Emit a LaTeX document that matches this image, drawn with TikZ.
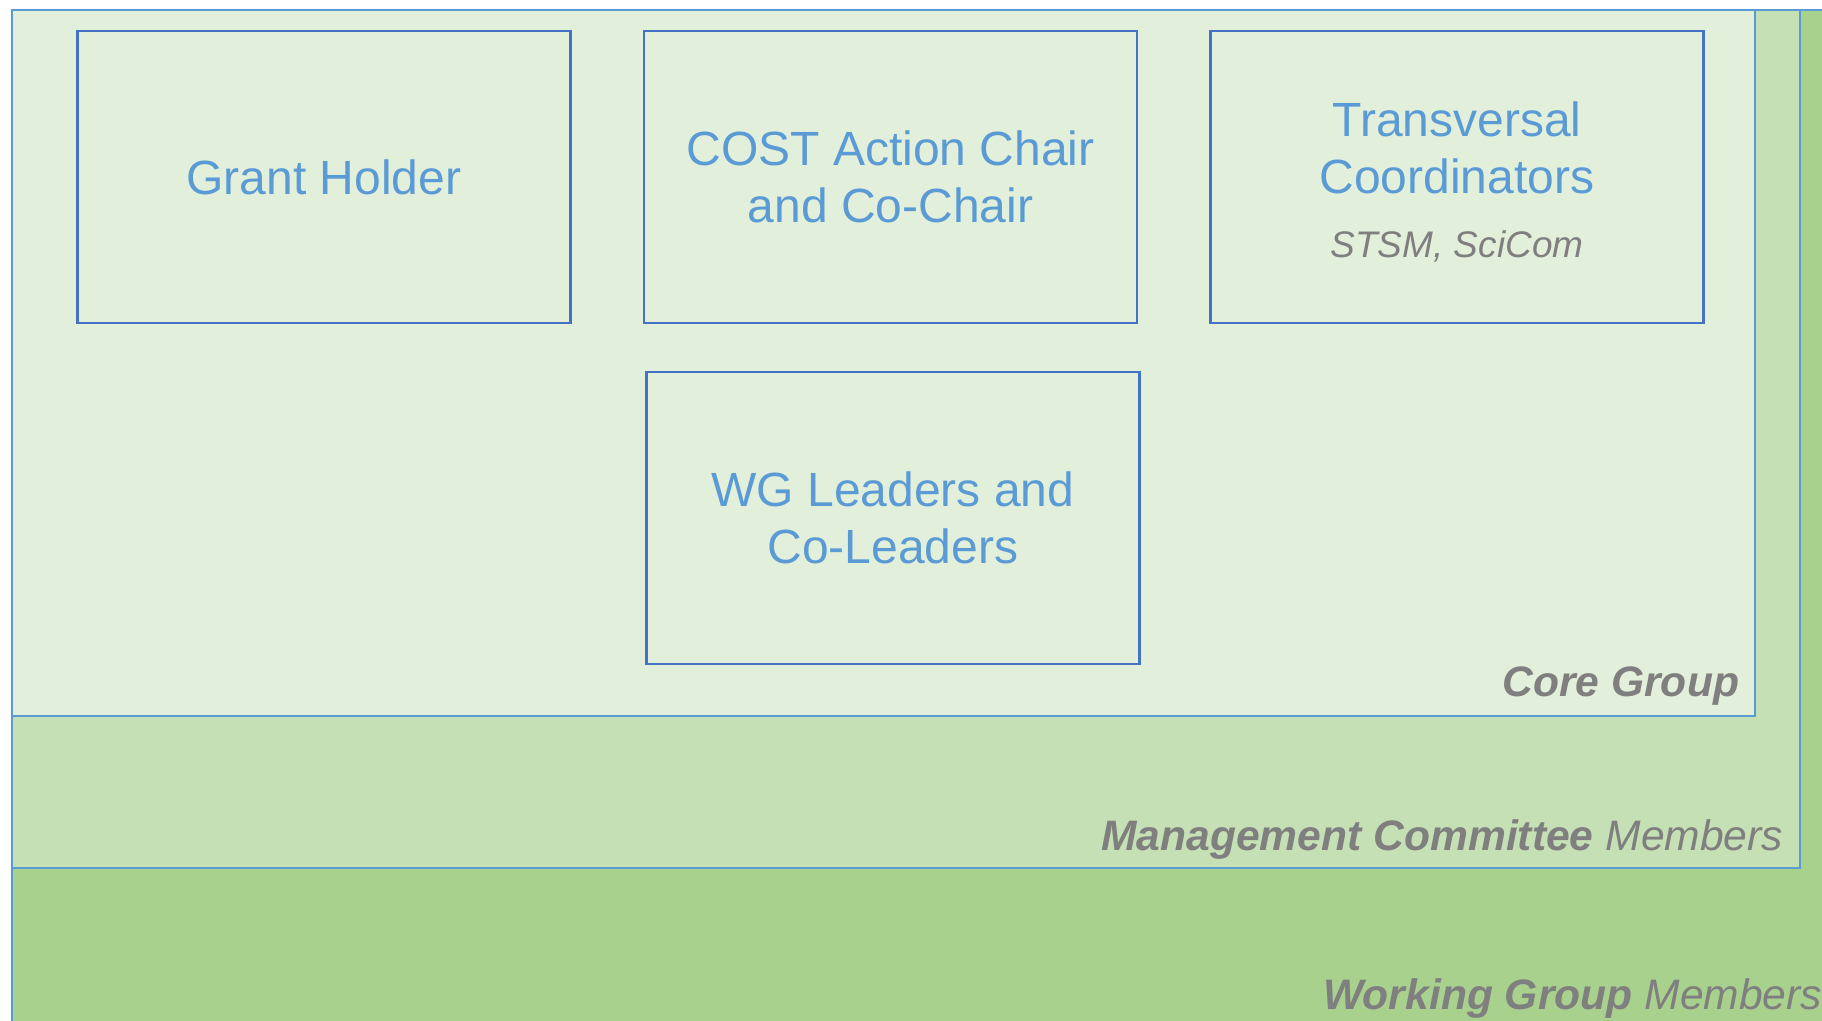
\documentclass[tikz,border=0pt]{standalone}
\usepackage{fontspec}
\setmainfont{Liberation Sans}
\usepackage{tikz}

\definecolor{wgfill}{HTML}{A9D18E}
\definecolor{mcfill}{HTML}{C5E0B4}
\definecolor{corefill}{HTML}{E2EFDA}
\definecolor{edgeblue}{HTML}{5B9BD5}
\definecolor{boxblue}{HTML}{4472C4}
\definecolor{textblue}{HTML}{5B9BD5}
\definecolor{textgray}{HTML}{7F7F7F}

\tikzset{
  rolebox/.style={draw=boxblue, line width=1.4pt, minimum width=246.5pt, minimum height=146pt,
    inner sep=0pt, align=center, text=textblue, font=\fontsize{24}{28.5}\selectfont},
  grouplabel/.style={anchor=base east, inner sep=0pt, text=textgray, font=\fontsize{21.3}{25}\selectfont\itshape}
}

\begin{document}
\begin{tikzpicture}[x=0.5pt, y=-0.5pt]
\clip (0, 0) rectangle (1822, 1021);
\fill[white] (0, 0) rectangle (1822, 1021);

\draw[edgeblue, line width=1.4pt, fill=wgfill] (12, 10) rectangle (1840, 1040);
\draw[edgeblue, line width=1.4pt, fill=mcfill] (12, 10) rectangle (1800, 868);
\draw[edgeblue, line width=1.4pt, fill=corefill] (12, 10) rectangle (1755, 716);

\node[rolebox] (grant) at (324, 177) {Grant Holder};
\node[rolebox] (chair) at (890.5, 177) {COST Action Chair\\and Co-Chair};
\node[rolebox] (trans) at (1457, 177) {\rule{0pt}{22.2pt}Transversal\\Coordinators\\[3.7pt]{\fontsize{18.5}{22}\selectfont\itshape\color{textgray}STSM, SciCom}};
\node[rolebox] (wglead) at (893, 518) {WG Leaders and\\Co-Leaders};

\node[grouplabel] (core) at (1739.5, 697) {\bfseries Core Group};
\node[grouplabel] (mc) at (1783.5, 850) {{\bfseries Management Committee} Members};
\node[grouplabel] (wg) at (1822.5, 1009) {{\bfseries Working Group} Members};
\end{tikzpicture}
\end{document}
